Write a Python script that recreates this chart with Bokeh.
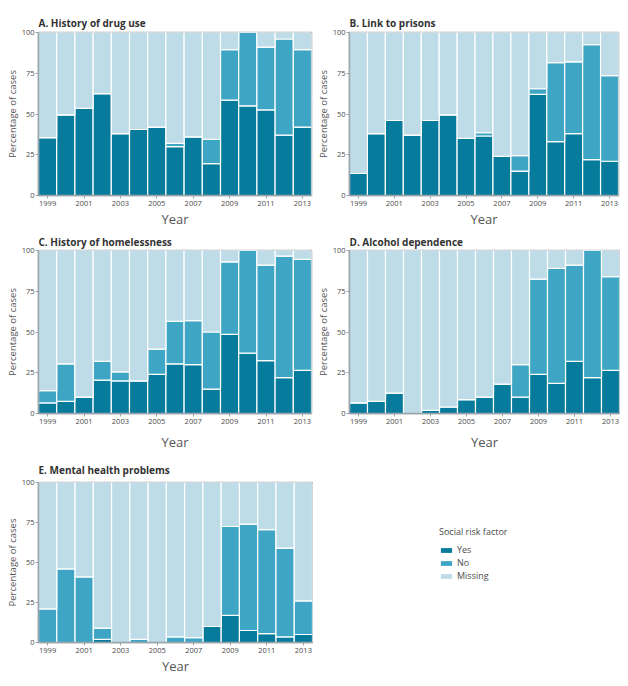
from bokeh.plotting import figure
from bokeh.models import Range1d, FixedTicker, Legend, LegendItem, ColumnDataSource
from bokeh.layouts import column, row
from bokeh.embed import file_html
from bokeh.resources import INLINE

years = [1999, 2000, 2001, 2002, 2003, 2004, 2005, 2006, 2007, 2008, 2009, 2010, 2011, 2012, 2013]
tick_years = [1999, 2001, 2003, 2005, 2007, 2009, 2011, 2013]
y_ticks = [0, 25, 50, 75, 100]
categories = ["Yes", "No", "Missing"]

# A. History of drug use
a_yes = [35.5, 49.5, 53.5, 62.5, 38, 40.5, 42, 30, 36, 19.5, 58.5, 55, 52.5, 37, 42]
a_no = [0, 0, 0, 0, 0, 0, 0, 2, 0, 15, 31, 45, 38.5, 59, 47.5]
a_missing = [64.5, 50.5, 46.5, 37.5, 62, 59.5, 58, 68, 64, 65.5, 10.5, 0, 9, 4, 10.5]

# B. Link to prisons
b_yes = [13.5, 38, 46, 37, 46, 49.5, 35, 36.5, 24, 15, 62, 33, 38, 22, 21]
b_no = [0, 0, 0, 0, 0, 0, 0, 2, 0, 9.5, 3.5, 48.5, 44, 70.5, 52.5]
b_missing = [86.5, 62, 54, 63, 54, 50.5, 65, 61.5, 76, 75.5, 34.5, 18.5, 18, 7.5, 26.5]

# C. History of homelessness
c_yes = [6.5, 7.5, 10, 20.5, 20, 20, 24, 30.5, 30, 15, 48.5, 37, 32.5, 22, 26.5]
c_no = [7.5, 23, 0, 11.5, 5.5, 0, 15.5, 26, 27, 35, 44.5, 63, 58.5, 74.5, 68]
c_missing = [86, 69.5, 90, 68, 74.5, 80, 60.5, 43.5, 43, 50, 7, 0, 9, 3.5, 5.5]

# D. Alcohol dependence
d_yes = [6.5, 7.5, 12.5, 0, 2, 4, 8.5, 10, 18, 10, 24, 18.5, 32, 22, 26.5]
d_no = [0, 0, 0, 0, 0, 0, 0, 0, 0, 20, 58.5, 70.5, 59, 78, 57.5]
d_missing = [93.5, 92.5, 87.5, 100, 98, 96, 91.5, 90, 82, 70, 17.5, 11, 9, 0, 16]

# E. Mental health problems
e_yes = [0, 0, 0, 2, 0, 0, 0, 0, 0, 10, 17, 7.5, 5.5, 3.5, 5]
e_no = [21, 46, 41, 7, 0, 2, 0, 3.5, 3, 0, 55.5, 66.5, 65, 55.5, 21]
e_missing = [79, 54, 59, 91, 100, 98, 100, 96.5, 97, 90, 27.5, 26, 29.5, 41, 74]

colors = ["#077b9c", "#3ea6c4", "#bddce8"]
FONT = "Open Sans"
TEXT = "#4a4a4a"
FRAME = "#9aa4aa"


def panel(title, yes, no, missing, width, height, bl, br, bt, bb, x_standoff, t_standoff):
    src = ColumnDataSource(dict(year=years, Yes=yes, No=no, Missing=missing))
    p = figure(width=width, height=height,
               x_range=Range1d(1998.5, 2013.5), y_range=Range1d(0, 100),
               output_backend="svg", toolbar_location=None,
               min_border_left=bl, min_border_right=br,
               min_border_top=bt, min_border_bottom=bb)
    p.vbar_stack(categories, x="year", width=1, source=src,
                 fill_color=colors, line_color="white", line_width=1.2)
    p.title.text = title
    p.title.text_font = FONT
    p.title.text_font_size = "10px"
    p.title.text_font_style = "bold"
    p.title.text_color = "#333333"
    p.title.standoff = t_standoff
    p.grid.visible = False
    p.outline_line_color = FRAME
    p.outline_line_width = 1.5
    p.xaxis.ticker = FixedTicker(ticks=tick_years)
    p.yaxis.ticker = FixedTicker(ticks=y_ticks)
    p.xaxis.axis_label = "Year"
    p.yaxis.axis_label = "Percentage of cases"
    for ax in (p.xaxis[0], p.yaxis[0]):
        ax.axis_line_color = FRAME
        ax.axis_line_width = 1.5
        ax.major_tick_line_color = FRAME
        ax.major_tick_in = 0
        ax.major_tick_out = 3
        ax.minor_tick_line_color = None
        ax.major_label_text_font = FONT
        ax.major_label_text_font_size = "7.5px"
        ax.major_label_text_color = TEXT
        ax.axis_label_text_font = FONT
        ax.axis_label_text_font_style = "normal"
        ax.axis_label_text_color = "#555555"
    p.xaxis.major_label_standoff = 2
    p.yaxis.major_label_standoff = 1
    p.xaxis.axis_label_text_font_size = "13px"
    p.xaxis.axis_label_standoff = x_standoff
    p.yaxis.axis_label_text_font_size = "9.5px"
    p.yaxis.axis_label_standoff = 0
    return p


pa = panel("A. History of drug use", a_yes, a_no, a_missing, 313, 230, 38, 2, 32, 35, 1, 6)
pb = panel("B. Link to prisons", b_yes, b_no, b_missing, 307, 230, 33, 2, 32, 35, 1, 6)
pc = panel("C. History of homelessness", c_yes, c_no, c_missing, 313, 225, 38, 2, 20, 42, 6, 4)
pd = panel("D. Alcohol dependence", d_yes, d_no, d_missing, 307, 225, 33, 1, 20, 42, 6, 4)
pe = panel("E. Mental health problems", e_yes, e_no, e_missing, 313, 225, 38, 1, 24, 38, 1, 11)

lg = figure(width=307, height=225, output_backend="svg", toolbar_location=None,
            min_border=0, x_range=Range1d(0, 1), y_range=Range1d(0, 1))
lg.axis.visible = False
lg.grid.visible = False
lg.outline_line_color = None
nan = float("nan")
rs = [lg.quad(left=[nan], right=[nan], top=[nan], bottom=[nan], fill_color=c, line_color=None)
      for c in colors]
legend = Legend(items=[LegendItem(label=lab, renderers=[r]) for lab, r in zip(categories, rs)],
                title="Social risk factor", location=(126, 60),
                glyph_width=14, glyph_height=6, label_height=9, label_width=30,
                spacing=-1, padding=0, margin=0,
                border_line_color=None, background_fill_alpha=0,
                label_text_font=FONT, label_text_font_size="9px", label_text_color=TEXT,
                title_text_font=FONT, title_text_font_size="9px", title_text_color=TEXT,
                title_text_font_style="normal", title_standoff=5, label_standoff=4)
lg.add_layout(legend)

layout = column(row(pa, pb), row(pc, pd), row(pe, lg))
open("out.html", "w").write(file_html(layout, INLINE))
